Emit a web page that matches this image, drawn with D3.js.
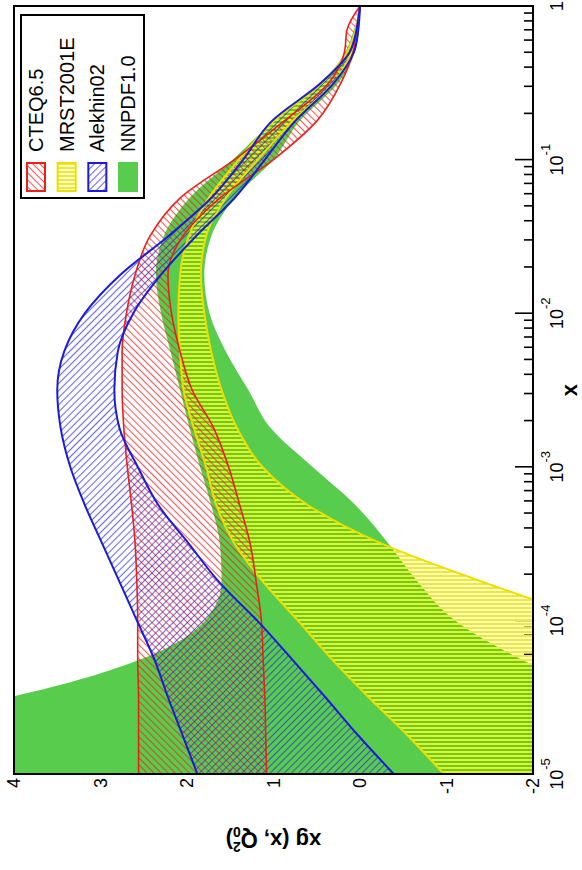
<!DOCTYPE html>
<html>
<head>
<meta charset="utf-8">
<script src="https://cdn.jsdelivr.net/npm/d3@7"></script>
<style>
body { margin: 0; background: #fff; }
svg { display: block; }
text { font-family: "Liberation Sans", Arial, sans-serif; fill: #000; }
</style>
</head>
<body>
<svg id="chart" width="582" height="870"></svg>
<script>
// x grid (log10 steps of 0.25 up to 0.1, then a few large-x points)
var xGrid = [1e-5, 1.78e-5, 3.16e-5, 5.62e-5, 1e-4, 1.78e-4, 3.16e-4, 5.62e-4,
	1e-3, 1.78e-3, 3.16e-3, 5.62e-3, 1e-2, 1.78e-2, 3.16e-2, 5.62e-2,
	0.1, 0.178, 0.316, 0.5, 0.7, 1];

// band limits, xg(x, Q0^2)
var nnpdfHi = [9.5, 6.5, 4.05, 2.52, 1.79, 1.60, 1.62, 1.72, 1.85, 1.97, 2.08, 2.19, 2.30, 2.36, 2.27, 1.97, 1.47, 1.0, 0.45, 0.17, 0.07, 0];
var nnpdfLo = [-5.5, -3.8, -2.8, -1.85, -1.1, -0.67, -0.33, 0.05, 0.55, 1.03, 1.29, 1.55, 1.74, 1.80, 1.72, 1.45, 1.0, 0.70, 0.25, 0.06, 0.01, 0];
var mrstHi = [-0.97, -0.55, -0.10, 0.33, 0.72, 1.12, 1.45, 1.66, 1.78, 1.92, 2.04, 2.08, 2.10, 2.08, 1.98, 1.75, 1.40, 1.0, 0.44, 0.15, 0.05, 0];
var mrstLo = [-7, -6, -5, -3.9, -2.7, -1.42, -0.25, 0.6, 1.13, 1.42, 1.60, 1.72, 1.80, 1.84, 1.78, 1.55, 1.18, 0.78, 0.30, 0.10, 0.03, 0];
var cteqHi = [2.56, 2.56, 2.56, 2.57, 2.57, 2.58, 2.60, 2.64, 2.69, 2.73, 2.75, 2.75, 2.70, 2.60, 2.43, 2.08, 1.45, 0.88, 0.36, 0.18, 0.15, 0];
var cteqLo = [1.08, 1.09, 1.10, 1.12, 1.14, 1.20, 1.27, 1.39, 1.52, 1.69, 1.94, 2.08, 2.18, 2.22, 2.05, 1.62, 1.0, 0.50, 0.22, 0.08, 0.04, 0];
var alekhinHi = [1.88, 2.05, 2.22, 2.38, 2.58, 2.78, 2.98, 3.18, 3.35, 3.46, 3.50, 3.42, 3.18, 2.77, 2.22, 1.72, 1.35, 1.02, 0.45, 0.12, 0.04, 0];
var alekhinLo = [-0.39, 0.02, 0.40, 0.79, 1.19, 1.63, 1.98, 2.33, 2.57, 2.78, 2.84, 2.80, 2.62, 2.30, 1.90, 1.45, 1.10, 0.75, 0.30, 0.07, 0.02, 0];

var yTicks = [-2, -1, 0, 1, 2, 3, 4];
var xLabelTicks = [1e-5, 1e-4, 1e-3, 1e-2, 1e-1, 1];
var xLabelExp = ["-5", "-4", "-3", "-2", "-1", ""];
var legendNames = ["CTEQ6.5", "MRST2001E", "Alekhin02", "NNPDF1.0"];

// chart is drawn landscape and turned a quarter turn
var W = 870, H = 582;
var margin = {left: 96, right: 6, top: 14, bottom: 49};

var svg = d3.select("#chart");
var root = svg.append("g").attr("transform", "translate(0," + W + ") rotate(-90)");

var x = d3.scaleLog().domain([1e-5, 1]).range([margin.left, W - margin.right]);
var y = d3.scaleLinear().domain([-2, 4]).range([H - margin.bottom, margin.top]);

var defs = svg.append("defs");
defs.append("clipPath").attr("id", "clip")
	.append("rect")
	.attr("x", margin.left).attr("y", margin.top)
	.attr("width", W - margin.left - margin.right)
	.attr("height", H - margin.top - margin.bottom);

function hatch(id, angle, size, color, width, opacity) {
	var p = defs.append("pattern")
		.attr("id", id)
		.attr("patternUnits", "userSpaceOnUse")
		.attr("width", size).attr("height", size)
		.attr("patternTransform", "rotate(" + angle + ")");
	p.append("line")
		.attr("x1", size / 2).attr("y1", 0)
		.attr("x2", size / 2).attr("y2", size)
		.attr("stroke", color)
		.attr("stroke-width", width)
		.attr("stroke-opacity", opacity);
}
hatch("hCteq", 45, 5, "#ee2222", 1.1, 0.75);
hatch("hAlek", -45, 5, "#2a2ae0", 1.1, 0.7);
hatch("hMrst", 0, 4, "#f4f000", 2, 1);

var green = "#58cc4c";

// x axis ticks (under the bands, like the original)
var xAxisG = root.append("g");
x.ticks().forEach(function(t) {
	var lg = Math.log10(t);
	var major = Math.abs(lg - Math.round(lg)) < 1e-6;
	xAxisG.append("line")
		.attr("x1", x(t)).attr("x2", x(t))
		.attr("y1", H - margin.bottom)
		.attr("y2", H - margin.bottom - (major ? 18 : 9))
		.attr("stroke", "#000").attr("stroke-width", 1.6);
});

var plot = root.append("g").attr("clip-path", "url(#clip)");

function bandData(lo, hi) {
	return xGrid.map(function(v, i) { return {x: v, lo: lo[i], hi: hi[i]}; });
}
var area = d3.area()
	.x(function(d) { return x(d.x); })
	.y0(function(d) { return y(d.lo); })
	.y1(function(d) { return y(d.hi); })
	.curve(d3.curveMonotoneX);
var lineLo = d3.line()
	.x(function(d) { return x(d.x); })
	.y(function(d) { return y(d.lo); })
	.curve(d3.curveMonotoneX);
var lineHi = d3.line()
	.x(function(d) { return x(d.x); })
	.y(function(d) { return y(d.hi); })
	.curve(d3.curveMonotoneX);

var nnpdf = bandData(nnpdfLo, nnpdfHi);
var mrst = bandData(mrstLo, mrstHi);
var cteq = bandData(cteqLo, cteqHi);
var alek = bandData(alekhinLo, alekhinHi);

plot.append("path").attr("d", area(nnpdf)).attr("fill", green);
plot.append("path").attr("d", area(mrst)).attr("fill", "url(#hMrst)");
plot.append("path").attr("d", area(cteq)).attr("fill", "url(#hCteq)");
plot.append("path").attr("d", area(alek)).attr("fill", "url(#hAlek)");

[[mrst, "#ecdf00", 2], [cteq, "#e8221a", 1.6], [alek, "#1c1cd8", 2]].forEach(function(s) {
	plot.append("path").attr("d", lineLo(s[0])).attr("fill", "none")
		.attr("stroke", s[1]).attr("stroke-width", s[2]);
	plot.append("path").attr("d", lineHi(s[0])).attr("fill", "none")
		.attr("stroke", s[1]).attr("stroke-width", s[2]);
});

// frame
root.append("rect")
	.attr("x", margin.left).attr("y", margin.top)
	.attr("width", W - margin.left - margin.right)
	.attr("height", H - margin.top - margin.bottom)
	.attr("fill", "none").attr("stroke", "#000").attr("stroke-width", 2);

// y tick labels
yTicks.forEach(function(t) {
	root.append("text")
		.attr("x", margin.left - 4)
		.attr("y", y(t) + 6)
		.attr("text-anchor", "end")
		.attr("font-size", 18)
		.text(t);
});

// x tick labels (10^n)
xLabelTicks.forEach(function(t, i) {
	var txt = root.append("text")
		.attr("x", x(t))
		.attr("y", 563)
		.attr("text-anchor", "middle")
		.attr("font-size", 18);
	if (xLabelExp[i] === "") {
		txt.text("1");
	} else {
		txt.append("tspan").text("10");
		txt.append("tspan").attr("dy", -13).attr("font-size", 13).text(xLabelExp[i]);
	}
});

// axis titles
root.append("text")
	.attr("x", (margin.left + W - margin.right) / 2)
	.attr("y", 577)
	.attr("text-anchor", "middle")
	.attr("font-size", 22).attr("font-weight", "bold")
	.text("x");

var yt = root.append("text")
	.attr("transform", "translate(37," + ((margin.top + H - margin.bottom) / 2) + ") rotate(-90)")
	.attr("text-anchor", "middle")
	.attr("font-size", 22).attr("font-weight", "bold");
yt.append("tspan").text("xg (x, Q");
yt.append("tspan").attr("dy", 6).attr("font-size", 14).text("0");
yt.append("tspan").attr("dx", -8).attr("dy", -15).attr("font-size", 14).text("2");
yt.append("tspan").attr("dy", 9).text(")");

// legend
var leg = root.append("g");
leg.append("rect")
	.attr("x", 672).attr("y", 21).attr("width", 183).attr("height", 123)
	.attr("fill", "#fff").attr("stroke", "#000").attr("stroke-width", 2);
var legFill = ["url(#hCteq)", "url(#hMrst)", "url(#hAlek)", green];
var legStroke = ["#e8221a", "#ecdf00", "#1c1cd8", green];
var rowY = d3.scalePoint().domain(legendNames).range([36, 128]);
legendNames.forEach(function(name, i) {
	var cy = rowY(name);
	leg.append("rect")
		.attr("x", 679).attr("y", cy - 9).attr("width", 28).attr("height", 18)
		.attr("fill", legFill[i]).attr("stroke", legStroke[i]).attr("stroke-width", 2);
	leg.append("text")
		.attr("x", 718).attr("y", cy + 7)
		.attr("font-size", 20)
		.text(name);
});
</script>
</body>
</html>
